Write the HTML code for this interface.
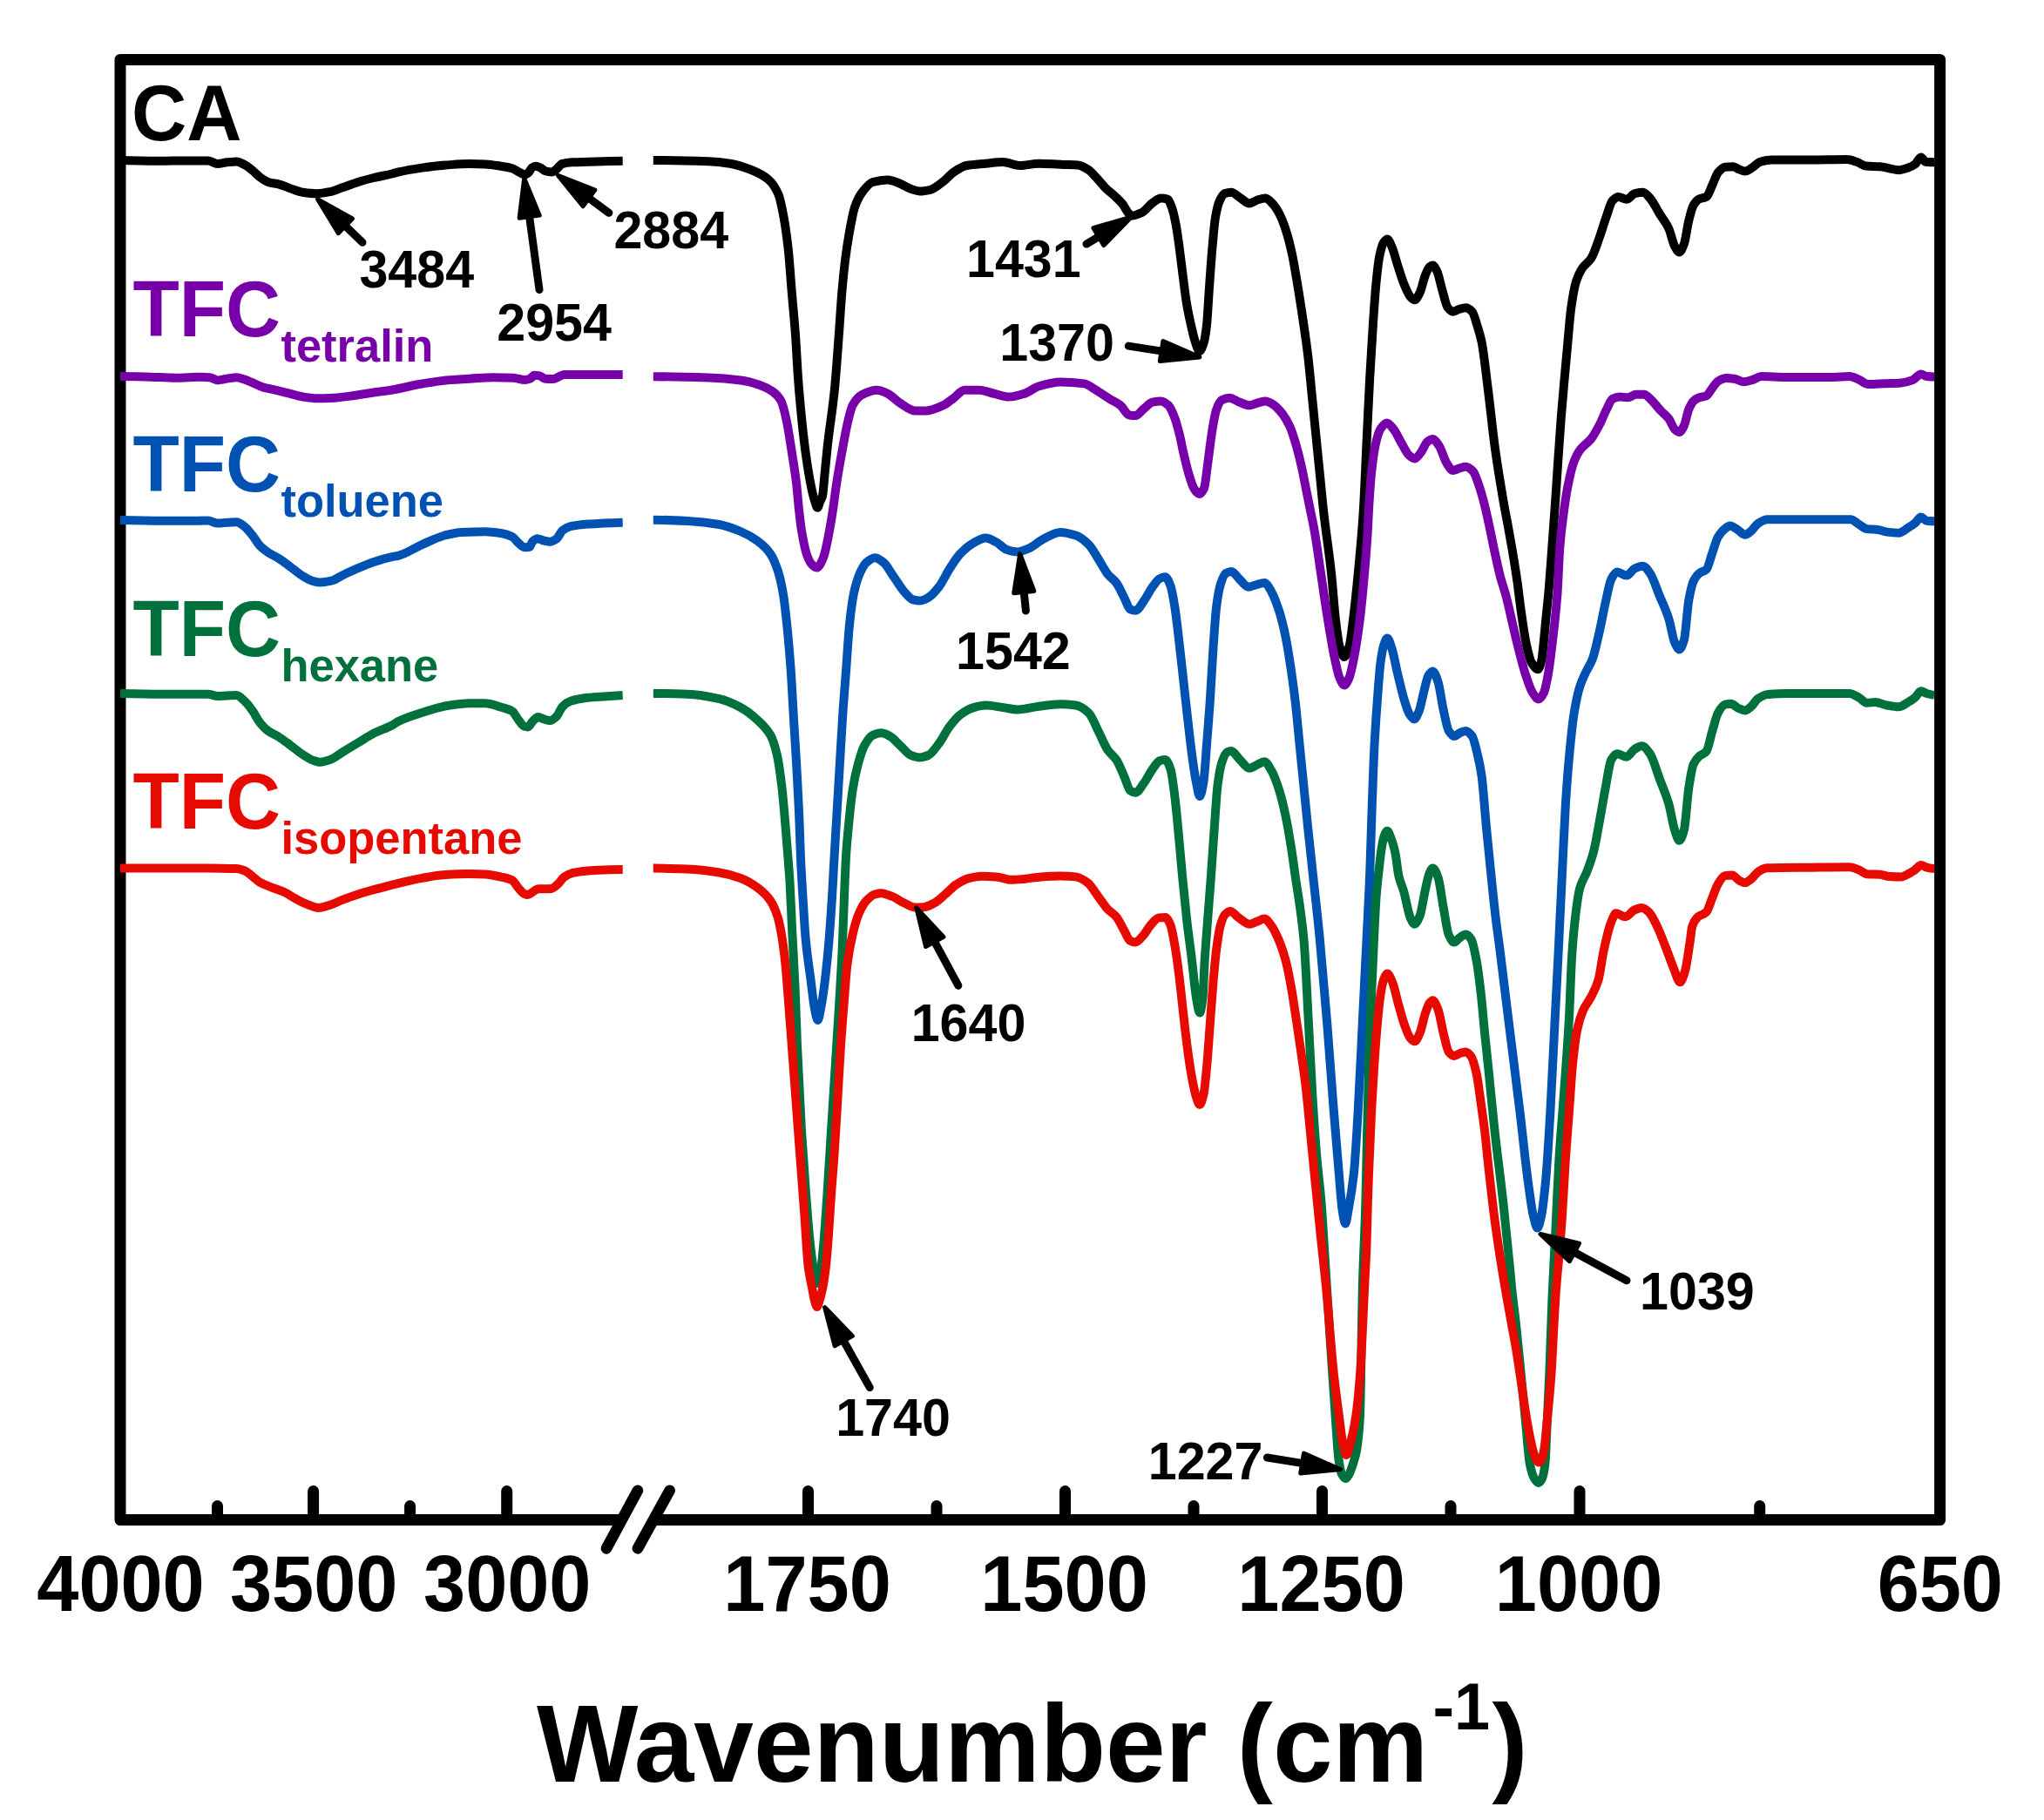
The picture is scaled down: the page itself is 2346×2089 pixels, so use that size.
<!DOCTYPE html><html><head><meta charset="utf-8"><title>FTIR spectra</title>
<style>html,body{margin:0;padding:0;background:#fff}svg{display:block}text{font-family:"Liberation Sans",sans-serif;font-weight:bold}</style></head><body>
<svg width="2346" height="2089" viewBox="0 0 2346 2089">
<rect width="2346" height="2089" fill="#fff"/>
<path fill="none" stroke="#000" stroke-width="13" stroke-linejoin="round" stroke-linecap="butt" d="M712,1744.6 L138,1744.6 L138,68.45 L2226.6,68.45 L2226.6,1744.6 L752,1744.6"/>
<g stroke="#000" stroke-width="13" stroke-linecap="round">
<line x1="359.6" y1="1740" x2="359.6" y2="1711.5"/>
<line x1="581.7" y1="1740" x2="581.7" y2="1711.5"/>
<line x1="927.5" y1="1740" x2="927.5" y2="1711.5"/>
<line x1="1222.5" y1="1740" x2="1222.5" y2="1711.5"/>
<line x1="1517.5" y1="1740" x2="1517.5" y2="1711.5"/>
<line x1="1813" y1="1740" x2="1813" y2="1711.5"/>
<line x1="249.5" y1="1740" x2="249.5" y2="1728.5"/>
<line x1="470.6" y1="1740" x2="470.6" y2="1728.5"/>
<line x1="1075" y1="1740" x2="1075" y2="1728.5"/>
<line x1="1370" y1="1740" x2="1370" y2="1728.5"/>
<line x1="1665" y1="1740" x2="1665" y2="1728.5"/>
<line x1="2019.7" y1="1740" x2="2019.7" y2="1728.5"/>
<line x1="696" y1="1777.3" x2="731.9" y2="1710.8" stroke-width="12.7"/>
<line x1="731.9" y1="1777.3" x2="768.6" y2="1710.8" stroke-width="12.7"/>
</g>
<g fill="none" stroke="#000000" stroke-width="10" stroke-linejoin="round" stroke-linecap="butt">
<path d="M138.0,184.0C153.5,184.6 168.9,184.8 184.4,184.8C193.5,184.8 202.5,184.4 211.6,184.4C220.7,184.4 229.7,184.4 238.8,184.4C242.4,184.4 246.1,188.1 249.7,188.1C253.3,188.1 256.9,186.7 260.5,186.3C264.1,185.9 267.8,185.4 271.4,185.4C274.4,185.4 277.5,187.5 280.5,189.0C283.5,190.5 286.5,192.9 289.5,195.3C292.5,197.7 295.6,201.3 298.6,203.5C301.6,205.7 304.7,207.9 307.7,208.9C311.9,210.3 316.2,210.5 320.4,211.6C324.6,212.7 328.8,214.8 333.0,216.2C337.9,217.8 342.7,220.0 347.6,220.7C353.0,221.5 358.5,222.2 363.9,222.2C369.3,222.2 374.8,220.9 380.2,219.8C384.4,218.9 388.7,216.8 392.9,215.3C398.9,213.2 405.0,210.8 411.0,208.9C417.0,207.0 423.1,205.5 429.1,204.0C436.1,202.3 443.0,201.2 450.0,199.5C452.4,198.9 454.8,198.0 457.2,197.5C466.3,195.4 475.3,193.9 484.4,192.6C493.5,191.3 502.5,190.1 511.6,189.5C520.7,188.9 529.7,188.1 538.8,188.1C544.8,188.1 550.9,188.2 556.9,188.4C563.0,188.6 569.0,189.8 575.1,190.8C579.3,191.5 583.6,192.0 587.8,193.2C590.8,194.1 593.8,196.6 596.8,198.0C598.6,198.9 600.5,200.4 602.3,200.4C603.8,200.4 605.3,199.2 606.8,198.0C608.0,197.0 609.2,193.4 610.4,192.6C611.9,191.6 613.5,190.8 615.0,190.8C616.8,190.8 618.6,191.8 620.4,192.6C622.2,193.4 624.0,195.7 625.8,196.2C628.2,196.9 630.7,197.5 633.1,197.5C634.9,197.5 636.7,195.7 638.5,194.4C640.6,192.9 642.8,188.7 644.9,188.1C648.8,187.0 652.8,186.5 656.7,186.3C665.8,185.8 674.8,185.6 683.9,185.4C694.2,185.1 704.4,184.9 714.7,184.8"/>
<path d="M749.8,184.0C771.0,184.0 792.2,184.5 813.4,185.3C821.5,185.6 829.7,186.5 837.8,187.7C846.0,188.9 854.1,191.8 862.3,195.0C868.8,197.6 875.4,200.5 881.9,206.0C885.8,209.3 889.6,214.2 893.5,223.2C895.3,227.3 897.0,236.1 898.8,245.2C900.8,255.5 902.8,268.8 904.8,286.8C906.1,298.8 907.5,319.8 908.8,335.7C910.2,352.4 911.6,365.4 913.0,384.6C914.0,398.3 915.0,419.9 916.0,433.5C917.4,452.9 918.9,468.5 920.3,482.5C921.8,497.5 923.4,510.6 924.9,521.6C926.8,535.0 928.6,546.6 930.5,555.9C931.8,562.5 933.2,568.7 934.5,573.0C935.8,577.0 937.0,582.7 938.3,582.7C939.4,582.7 940.4,577.4 941.5,575.0C942.3,573.1 943.2,572.5 944.0,569.5C944.8,566.5 945.7,553.1 946.5,544.8C947.6,533.9 948.7,521.8 949.8,511.8C952.5,487.1 955.3,473.4 958.0,445.9C959.6,429.8 961.2,406.0 962.8,384.6C964.0,369.0 965.1,349.3 966.3,335.7C967.5,321.4 968.8,308.9 970.0,299.0C971.6,286.2 973.2,276.1 974.8,267.2C976.9,255.7 978.9,243.8 981.0,237.8C983.8,229.6 986.7,224.5 989.5,220.7C993.6,215.3 997.6,210.1 1001.7,209.0C1007.4,207.5 1013.2,206.5 1018.9,206.5C1023.8,206.5 1028.6,209.1 1033.5,211.0C1037.6,212.6 1041.7,215.6 1045.8,217.0C1049.1,218.1 1052.3,219.5 1055.6,219.5C1059.7,219.5 1063.7,218.7 1067.8,217.8C1072.7,216.7 1077.6,212.2 1082.5,208.5C1086.6,205.5 1090.6,200.2 1094.7,197.5C1099.6,194.3 1104.5,190.9 1109.4,190.0C1116.7,188.7 1124.1,188.4 1131.4,187.7C1137.9,187.1 1144.5,186.0 1151.0,186.0C1157.5,186.0 1164.0,190.0 1170.5,190.0C1177.8,190.0 1185.2,187.7 1192.5,187.7C1201.7,187.7 1210.8,188.6 1220.0,188.9C1225.7,189.1 1231.4,189.1 1237.1,189.4C1241.2,189.6 1245.3,192.4 1249.4,195.0C1252.6,197.1 1255.9,201.4 1259.1,204.8C1262.4,208.3 1265.6,212.6 1268.9,215.8C1272.2,219.0 1275.4,221.3 1278.7,224.4C1282.0,227.5 1285.2,230.2 1288.5,234.2C1290.9,237.2 1293.4,243.1 1295.8,245.2C1297.0,246.3 1298.3,247.6 1299.5,247.6C1303.2,247.6 1306.8,245.7 1310.5,244.0C1314.6,242.1 1318.6,235.8 1322.7,233.0C1326.0,230.8 1329.2,227.6 1332.5,227.6C1335.0,227.6 1337.4,227.9 1339.9,228.6C1341.5,229.0 1343.2,233.6 1344.8,237.8C1346.4,241.9 1348.0,249.2 1349.6,257.4C1350.8,263.7 1352.1,273.0 1353.3,281.9C1354.5,290.8 1355.8,301.7 1357.0,311.2C1358.6,323.8 1360.3,338.1 1361.9,347.9C1363.5,357.7 1365.2,365.1 1366.8,372.4C1368.4,379.7 1370.1,387.3 1371.7,392.0C1373.3,396.7 1375.0,403.0 1376.6,403.0C1378.2,403.0 1379.8,398.9 1381.4,394.4C1382.6,390.9 1383.9,383.1 1385.1,372.4C1385.9,365.1 1386.8,347.5 1387.6,335.7C1388.8,318.7 1390.0,300.6 1391.2,286.8C1392.4,272.6 1393.7,257.2 1394.9,250.0C1396.5,240.5 1398.2,233.9 1399.8,230.5C1401.8,226.2 1403.9,222.7 1405.9,222.0C1408.3,221.2 1410.8,220.7 1413.2,220.7C1416.5,220.7 1419.7,224.8 1423.0,226.8C1426.7,229.0 1430.3,233.4 1434.0,233.4C1437.3,233.4 1440.5,230.2 1443.8,229.3C1446.7,228.5 1449.5,227.6 1452.4,227.6C1455.3,227.6 1458.1,231.2 1461.0,234.2C1463.8,237.1 1466.7,241.9 1469.5,247.6C1471.9,252.5 1474.4,259.4 1476.8,267.2C1478.9,273.8 1480.9,282.1 1483.0,291.7C1485.0,301.1 1487.1,313.7 1489.1,325.9C1491.1,338.1 1493.2,351.2 1495.2,365.0C1497.2,378.8 1499.3,392.0 1501.3,409.1C1502.9,422.9 1504.6,441.7 1506.2,458.0C1507.8,474.3 1509.5,490.7 1511.1,507.0C1512.7,523.3 1514.4,539.6 1516.0,555.9C1517.0,565.6 1517.9,576.2 1518.9,585.0C1521.9,612.5 1525.0,629.5 1528.0,657.8C1529.7,673.4 1531.3,698.3 1533.0,712.0C1534.5,724.3 1536.0,736.9 1537.5,742.0C1539.3,748.1 1541.1,754.0 1542.9,754.0C1544.8,754.0 1546.6,748.2 1548.5,742.0C1550.0,737.0 1551.5,723.6 1553.0,712.0C1554.9,697.1 1556.9,678.0 1558.8,657.8C1560.8,636.5 1562.9,616.7 1564.9,585.0C1566.1,565.8 1567.4,532.6 1568.6,507.0C1569.8,482.1 1571.0,455.4 1572.2,433.5C1573.4,411.0 1574.7,390.5 1575.9,372.4C1577.1,354.3 1578.4,335.7 1579.6,323.5C1580.8,311.3 1582.1,300.0 1583.3,294.1C1584.9,286.5 1586.5,280.4 1588.1,278.2C1589.5,276.3 1590.9,274.5 1592.3,274.5C1594.2,274.5 1596.0,280.1 1597.9,284.3C1599.9,288.9 1602.0,297.6 1604.0,303.9C1606.5,311.5 1608.9,320.0 1611.4,325.9C1613.8,331.7 1616.3,338.0 1618.7,340.6C1620.3,342.3 1622.0,344.3 1623.6,344.3C1625.6,344.3 1627.7,339.7 1629.7,335.7C1631.7,331.7 1633.8,321.1 1635.8,316.1C1637.4,312.1 1639.1,307.6 1640.7,306.3C1641.9,305.3 1643.2,304.4 1644.4,304.4C1646.0,304.4 1647.7,308.0 1649.3,311.2C1651.3,315.2 1653.4,326.3 1655.4,333.2C1657.4,340.1 1659.5,350.2 1661.5,352.8C1663.5,355.4 1665.6,357.7 1667.6,357.7C1670.1,357.7 1672.5,355.5 1675.0,354.8C1677.4,354.1 1679.9,353.3 1682.3,353.3C1684.8,353.3 1687.2,355.2 1689.7,357.7C1691.7,359.7 1693.8,368.3 1695.8,374.8C1697.4,379.8 1698.9,384.5 1700.5,392.0C1703.0,404.0 1705.5,428.3 1708.0,448.0C1710.7,469.0 1713.3,495.7 1716.0,515.0C1719.3,539.1 1722.7,558.9 1726.0,578.0C1727.5,586.6 1729.0,593.8 1730.5,602.0C1732.2,611.1 1733.8,620.1 1735.5,630.0C1737.5,641.9 1739.5,653.9 1741.5,668.0C1742.9,678.1 1744.4,691.5 1745.8,701.5C1747.8,715.3 1749.7,729.6 1751.7,738.6C1753.8,748.1 1755.8,757.5 1757.9,760.8C1760.4,764.7 1762.8,768.2 1765.3,768.2C1766.7,768.2 1768.1,763.1 1769.5,757.0C1770.2,754.1 1770.8,746.2 1771.5,740.0C1772.3,732.2 1773.2,722.4 1774.0,713.8C1775.2,701.1 1776.5,690.8 1777.7,676.7C1778.9,662.6 1780.2,644.0 1781.4,627.3C1782.6,611.0 1783.8,595.0 1785.0,577.8C1786.1,562.0 1787.2,544.4 1788.3,528.4C1789.5,511.4 1790.6,493.8 1791.8,478.9C1793.4,459.0 1794.9,442.6 1796.5,425.0C1797.5,413.8 1798.5,402.7 1799.5,392.0C1800.7,379.5 1801.8,363.9 1803.0,355.4C1805.0,340.8 1807.0,329.4 1809.0,323.1C1811.3,316.0 1813.5,311.8 1815.8,308.3C1819.4,302.8 1822.9,301.8 1826.5,296.1C1829.7,291.1 1832.8,280.7 1836.0,271.9C1838.7,264.5 1841.3,255.1 1844.0,247.7C1846.3,241.4 1848.5,232.4 1850.8,230.2C1853.0,228.0 1855.3,226.1 1857.5,226.1C1860.6,226.1 1863.8,228.8 1866.9,228.8C1870.0,228.8 1873.2,222.8 1876.3,222.1C1879.5,221.4 1882.6,220.8 1885.8,220.8C1888.5,220.8 1891.1,224.6 1893.8,227.5C1897.4,231.4 1901.0,239.2 1904.6,245.0C1908.2,250.8 1911.8,254.7 1915.4,262.5C1917.6,267.3 1919.9,278.8 1922.1,282.7C1923.9,285.8 1925.7,289.4 1927.5,289.4C1929.3,289.4 1931.1,284.6 1932.9,280.0C1934.7,275.4 1936.5,260.2 1938.3,253.1C1940.1,246.1 1941.8,238.5 1943.6,235.6C1945.9,231.8 1948.1,229.3 1950.4,228.3C1953.1,227.1 1955.7,227.4 1958.4,226.1C1960.7,225.0 1962.9,217.4 1965.2,212.7C1967.4,208.0 1969.7,200.5 1971.9,197.9C1974.6,194.8 1977.3,192.0 1980.0,191.7C1983.1,191.4 1986.3,191.2 1989.4,191.2C1991.6,191.2 1993.9,193.6 1996.1,194.4C1998.4,195.3 2000.6,196.5 2002.9,196.5C2005.6,196.5 2008.3,194.1 2011.0,192.5C2014.1,190.7 2017.3,186.7 2020.4,185.8C2024.9,184.6 2029.3,183.6 2033.8,183.6C2048.2,183.6 2062.5,183.6 2076.9,183.6C2091.3,183.6 2105.6,183.1 2120.0,183.1C2123.6,183.1 2127.2,184.6 2130.8,185.8C2134.4,186.9 2137.9,190.3 2141.5,190.6C2146.9,191.0 2152.3,190.8 2157.7,191.2C2161.3,191.4 2164.8,192.6 2168.4,193.3C2172.0,194.0 2175.6,195.2 2179.2,195.2C2182.8,195.2 2186.4,193.7 2190.0,192.5C2192.7,191.6 2195.3,190.4 2198.0,188.5C2200.3,186.9 2202.5,180.4 2204.8,180.4C2206.6,180.4 2208.4,185.6 2210.2,185.8C2213.5,186.1 2216.7,186.3 2220.0,186.3"/>
</g>
<g fill="none" stroke="#7800AA" stroke-width="10" stroke-linejoin="round" stroke-linecap="butt">
<path d="M138.0,432.0C147.4,432.0 156.9,432.2 166.3,432.4C178.4,432.6 190.4,433.7 202.5,433.7C211.6,433.7 220.6,432.8 229.7,432.8C233.3,432.8 237.0,433.0 240.6,433.2C243.6,433.4 246.7,436.4 249.7,436.4C253.3,436.4 256.9,435.1 260.5,434.6C264.1,434.1 267.8,433.2 271.4,433.2C274.4,433.2 277.5,434.6 280.5,435.5C283.5,436.4 286.5,437.9 289.5,439.2C293.7,441.0 298.0,443.4 302.2,444.6C306.4,445.8 310.7,446.3 314.9,447.3C319.7,448.4 324.6,449.7 329.4,450.9C335.5,452.4 341.5,454.6 347.6,455.5C353.0,456.3 358.5,457.3 363.9,457.3C370.5,457.3 377.2,457.0 383.8,456.7C389.8,456.4 395.9,455.4 401.9,454.6C410.9,453.4 420.0,451.8 429.0,450.5C436.0,449.5 443.0,448.7 450.0,447.5C461.5,445.6 472.9,442.4 484.4,440.5C493.5,439.0 502.5,437.3 511.6,436.5C520.7,435.7 529.7,435.2 538.8,434.7C547.9,434.2 556.9,433.2 566.0,433.2C573.9,433.2 581.7,433.4 589.6,433.8C593.8,434.0 598.1,436.1 602.3,436.1C604.4,436.1 606.5,435.5 608.6,434.7C610.1,434.1 611.6,430.7 613.1,430.7C614.9,430.7 616.8,430.9 618.6,431.1C621.0,431.4 623.4,434.5 625.8,434.7C628.8,434.9 631.9,435.0 634.9,435.0C637.3,435.0 639.7,432.9 642.1,432.0C643.9,431.3 645.8,430.1 647.6,430.1C653.6,430.1 659.7,430.1 665.7,430.1C682.0,430.1 698.4,430.1 714.7,430.0"/>
<path d="M749.8,432.3C771.0,432.3 792.2,432.8 813.4,433.5C825.6,433.9 837.8,434.9 850.0,436.5C857.3,437.4 864.7,439.5 872.0,442.0C876.9,443.7 881.9,445.9 886.8,449.4C890.1,451.7 893.3,454.6 896.6,460.4C898.6,464.0 900.7,473.3 902.7,482.5C904.7,491.7 906.8,506.0 908.8,519.0C910.6,530.5 912.4,540.7 914.2,555.9C915.1,563.8 916.1,576.5 917.0,585.0C918.0,594.1 919.0,603.1 920.0,609.0C922.2,621.9 924.3,632.5 926.5,638.0C928.3,642.7 930.2,646.3 932.0,648.0C933.9,649.7 935.7,651.5 937.6,651.5C940.1,651.5 942.5,645.7 945.0,640.0C947.3,634.6 949.7,621.1 952.0,609.0C953.3,602.1 954.7,593.8 956.0,585.0C957.3,576.2 958.7,564.7 960.0,556.0C962.1,542.3 964.2,530.8 966.3,519.2C968.3,508.0 970.4,496.1 972.4,487.4C974.4,478.7 976.5,469.0 978.5,465.3C982.2,458.7 985.8,454.9 989.5,453.0C995.2,450.1 1000.9,447.7 1006.6,447.7C1010.7,447.7 1014.8,450.0 1018.9,451.9C1023.8,454.2 1028.6,460.0 1033.5,462.9C1039.2,466.4 1045.0,471.5 1050.7,471.5C1054.8,471.5 1058.8,471.5 1062.9,471.5C1069.4,471.5 1076.0,468.2 1082.5,465.3C1086.6,463.5 1090.6,459.7 1094.7,456.8C1098.8,453.9 1102.9,447.7 1107.0,447.7C1112.7,447.7 1118.3,447.7 1124.0,447.7C1129.7,447.7 1135.5,450.6 1141.2,451.9C1146.9,453.2 1152.6,455.6 1158.3,455.6C1164.0,455.6 1169.7,453.6 1175.4,451.9C1181.1,450.2 1186.8,445.0 1192.5,443.3C1200.7,440.9 1208.8,438.5 1217.0,438.5C1226.2,438.5 1235.3,439.2 1244.5,440.4C1248.6,441.0 1252.6,444.6 1256.7,447.0C1262.4,450.3 1268.1,454.5 1273.8,458.0C1277.9,460.5 1281.9,462.1 1286.0,465.3C1289.3,467.9 1292.5,475.7 1295.8,476.3C1298.3,476.8 1300.7,477.1 1303.2,477.1C1306.5,477.1 1309.7,471.6 1313.0,469.0C1316.2,466.5 1319.5,462.4 1322.7,461.7C1326.0,461.0 1329.2,460.4 1332.5,460.4C1335.4,460.4 1338.2,462.7 1341.1,465.3C1343.5,467.5 1346.0,473.7 1348.4,480.0C1350.3,484.8 1352.1,492.1 1354.0,499.6C1355.4,505.2 1356.8,513.1 1358.2,519.2C1360.2,528.0 1362.3,536.9 1364.3,543.6C1366.3,550.3 1368.4,557.7 1370.4,560.7C1372.5,563.8 1374.5,567.0 1376.6,567.0C1378.4,567.0 1380.1,564.3 1381.9,560.7C1383.4,557.7 1384.8,541.7 1386.3,531.4C1387.9,519.9 1389.6,504.5 1391.2,494.7C1392.8,484.9 1394.5,474.6 1396.1,470.2C1398.1,464.7 1400.2,460.2 1402.2,459.2C1405.1,457.8 1407.9,456.8 1410.8,456.8C1414.9,456.8 1418.9,460.2 1423.0,461.7C1426.7,463.0 1430.3,465.3 1434.0,465.3C1437.3,465.3 1440.5,463.2 1443.8,462.4C1446.7,461.7 1449.5,460.4 1452.4,460.4C1455.3,460.4 1458.1,462.4 1461.0,464.1C1464.7,466.3 1468.3,470.4 1472.0,475.1C1474.8,478.7 1477.7,483.6 1480.5,489.8C1483.0,495.2 1485.4,503.3 1487.9,511.8C1489.9,518.8 1492.0,527.2 1494.0,536.3C1495.6,543.6 1497.3,552.6 1498.9,560.7C1500.5,568.8 1502.2,576.9 1503.8,585.0C1505.4,593.0 1507.0,599.9 1508.6,608.9C1511.1,622.8 1513.5,641.4 1516.0,657.8C1518.4,674.0 1520.9,691.8 1523.3,706.8C1526.2,724.5 1529.0,742.4 1531.9,755.7C1533.8,764.3 1535.6,773.8 1537.5,778.0C1539.3,782.1 1541.1,786.5 1542.9,786.5C1544.8,786.5 1546.6,782.2 1548.5,778.0C1550.3,774.0 1552.1,764.7 1553.9,755.7C1556.4,743.3 1558.8,726.9 1561.3,706.8C1562.9,693.8 1564.5,676.3 1566.1,657.8C1567.3,643.5 1568.6,629.2 1569.8,608.9C1570.2,602.3 1570.6,591.7 1571.0,585.0C1572.0,568.3 1573.0,553.3 1574.0,543.6C1575.5,529.4 1576.9,518.4 1578.4,511.8C1580.4,502.6 1582.5,495.3 1584.5,492.3C1586.9,488.7 1589.4,485.4 1591.8,485.4C1594.3,485.4 1596.7,489.3 1599.2,492.3C1602.5,496.2 1605.7,504.0 1609.0,509.4C1611.8,514.1 1614.7,520.4 1617.5,522.8C1619.5,524.5 1621.6,526.5 1623.6,526.5C1626.1,526.5 1628.5,522.3 1631.0,519.2C1633.4,516.2 1635.9,508.8 1638.3,507.0C1640.3,505.5 1642.4,504.0 1644.4,504.0C1646.9,504.0 1649.3,508.3 1651.8,511.8C1654.6,515.9 1657.5,527.0 1660.3,531.4C1662.7,535.2 1665.2,540.0 1667.6,540.0C1670.1,540.0 1672.5,538.2 1675.0,537.5C1677.4,536.8 1679.9,535.8 1682.3,535.8C1685.2,535.8 1688.0,538.2 1690.9,541.2C1692.9,543.3 1695.0,550.2 1697.0,555.9C1699.0,561.5 1701.0,568.4 1703.0,576.0C1705.0,583.6 1707.0,592.9 1709.0,602.0C1711.0,611.1 1713.0,621.7 1715.0,631.0C1717.3,641.8 1719.7,653.2 1722.0,662.0C1724.0,669.6 1726.0,674.6 1728.0,682.0C1732.1,697.2 1736.3,718.2 1740.4,734.6C1744.0,748.9 1747.6,764.2 1751.2,775.0C1753.8,782.8 1756.4,791.1 1759.0,795.0C1761.3,798.5 1763.7,802.5 1766.0,802.5C1768.0,802.5 1770.0,799.0 1772.0,795.0C1773.6,791.9 1775.1,783.4 1776.7,775.0C1778.5,765.3 1780.3,750.0 1782.1,734.6C1783.9,719.2 1785.7,705.1 1787.5,680.8C1788.4,668.7 1789.3,641.6 1790.2,630.0C1791.5,612.9 1792.9,602.6 1794.2,592.3C1796.0,578.3 1797.8,566.3 1799.6,557.3C1801.8,546.1 1804.1,536.3 1806.3,530.4C1808.6,524.4 1810.8,520.0 1813.1,516.9C1817.6,510.7 1822.0,509.1 1826.5,503.4C1829.7,499.3 1832.8,493.4 1836.0,487.3C1838.7,482.2 1841.3,475.0 1844.0,469.8C1846.3,465.4 1848.5,458.8 1850.8,457.7C1853.5,456.4 1856.1,455.5 1858.8,455.5C1862.0,455.5 1865.1,456.3 1868.3,456.3C1871.4,456.3 1874.6,452.8 1877.7,452.8C1880.8,452.8 1884.0,452.8 1887.1,452.8C1889.8,452.8 1892.5,456.6 1895.2,459.0C1898.8,462.2 1902.3,467.3 1905.9,471.1C1909.1,474.5 1912.2,476.5 1915.4,480.6C1917.6,483.5 1919.9,490.7 1922.1,492.7C1923.9,494.3 1925.7,495.9 1927.5,495.9C1929.3,495.9 1931.1,492.1 1932.9,488.6C1934.7,485.1 1936.5,474.0 1938.3,469.8C1940.1,465.7 1941.8,462.0 1943.6,460.4C1945.9,458.3 1948.1,457.1 1950.4,456.3C1953.1,455.4 1955.7,455.5 1958.4,454.4C1960.7,453.5 1962.9,448.4 1965.2,445.6C1967.4,442.8 1969.7,438.8 1971.9,437.5C1975.0,435.7 1978.2,434.0 1981.3,434.0C1984.5,434.0 1987.6,434.4 1990.8,434.8C1994.4,435.3 1997.9,438.3 2001.5,438.3C2004.7,438.3 2007.8,437.0 2011.0,436.1C2014.6,435.1 2018.1,432.1 2021.7,432.1C2031.1,432.1 2040.6,432.9 2050.0,432.9C2067.9,432.9 2085.9,432.9 2103.8,432.9C2110.1,432.9 2116.4,432.1 2122.7,432.1C2126.3,432.1 2129.8,434.2 2133.4,435.6C2137.0,437.0 2140.6,441.0 2144.2,441.0C2150.5,441.0 2156.7,440.5 2163.0,440.2C2169.3,439.9 2175.6,439.9 2181.9,439.4C2186.4,439.1 2190.9,437.8 2195.4,436.1C2198.5,434.9 2201.7,429.4 2204.8,429.4C2207.0,429.4 2209.3,431.9 2211.5,432.1C2214.3,432.4 2217.2,432.6 2220.0,432.6"/>
</g>
<g fill="none" stroke="#0052B2" stroke-width="10" stroke-linejoin="round" stroke-linecap="butt">
<path d="M138.0,597.0C153.5,597.4 168.9,597.8 184.4,597.8C193.5,597.8 202.5,597.8 211.6,597.8C220.7,597.8 229.7,597.5 238.8,597.5C242.4,597.5 246.1,600.6 249.7,600.6C253.3,600.6 256.9,599.9 260.5,599.7C264.1,599.5 267.8,599.3 271.4,599.3C274.4,599.3 277.5,602.0 280.5,604.2C283.5,606.4 286.5,610.5 289.5,614.2C292.5,617.9 295.6,623.7 298.6,626.8C301.6,629.9 304.7,632.1 307.7,634.1C311.9,636.9 316.2,638.6 320.4,641.3C324.6,644.0 328.8,647.3 333.0,650.4C337.9,654.0 342.7,658.4 347.6,661.3C351.2,663.4 354.8,665.7 358.4,666.7C361.4,667.5 364.5,668.5 367.5,668.5C371.7,668.5 376.0,667.6 380.2,666.7C384.4,665.8 388.7,662.4 392.9,660.4C398.9,657.5 405.0,654.8 411.0,652.2C417.0,649.6 423.1,647.0 429.1,645.0C436.1,642.7 443.0,640.7 450.0,639.2C452.4,638.7 454.8,638.4 457.2,637.8C466.3,635.5 475.3,629.0 484.4,625.1C493.5,621.2 502.5,616.4 511.6,614.2C517.6,612.7 523.7,611.2 529.7,610.9C538.8,610.5 547.8,610.2 556.9,610.2C563.0,610.2 569.0,611.1 575.1,612.0C579.3,612.7 583.6,613.9 587.8,616.0C590.2,617.2 592.6,621.2 595.0,623.2C597.4,625.2 599.9,628.3 602.3,628.3C604.1,628.3 605.9,628.1 607.7,627.8C608.9,627.6 610.1,622.5 611.3,621.4C613.1,619.7 615.0,618.2 616.8,618.2C619.2,618.2 621.6,620.0 624.0,620.5C626.4,621.1 628.9,621.8 631.3,621.8C633.7,621.8 636.1,620.3 638.5,618.7C640.9,617.1 643.4,610.5 645.8,608.7C648.8,606.5 651.8,604.9 654.8,604.2C661.5,602.7 668.1,602.0 674.8,601.5C680.8,601.1 686.9,600.9 692.9,600.6C700.2,600.3 707.4,600.0 714.7,599.7"/>
<path d="M749.8,596.7C762.9,596.7 775.9,597.3 789.0,598.0C801.2,598.6 813.4,599.9 825.6,602.0C833.7,603.4 841.9,606.6 850.0,610.0C856.5,612.7 863.1,616.2 869.6,621.0C874.5,624.6 879.4,628.7 884.3,635.8C887.2,639.9 890.0,646.6 892.9,655.4C894.9,661.6 897.0,670.4 899.0,682.3C900.5,690.9 901.9,704.7 903.4,719.0C904.8,732.6 906.2,748.5 907.6,767.9C908.8,784.6 910.0,809.0 911.2,829.0C912.2,845.6 913.2,860.2 914.2,878.0C915.2,896.4 916.3,915.1 917.3,939.0C917.9,952.1 918.4,972.6 919.0,985.0C919.8,1003.2 920.7,1016.3 921.5,1030.0C922.6,1047.5 923.6,1066.3 924.7,1077.8C926.7,1099.7 928.8,1110.9 930.8,1126.8C932.0,1136.4 933.3,1148.6 934.5,1155.0C935.9,1162.1 937.2,1171.0 938.6,1171.0C939.9,1171.0 941.2,1161.6 942.5,1155.0C943.9,1147.9 945.3,1138.0 946.7,1126.8C948.3,1113.7 950.0,1097.1 951.6,1077.8C952.7,1064.4 953.9,1048.1 955.0,1030.0C955.7,1018.3 956.5,1002.9 957.2,990.0C958.2,972.4 959.2,956.0 960.2,939.0C961.4,918.6 962.6,898.1 963.8,878.0C965.0,857.4 966.3,835.0 967.5,816.9C968.7,798.8 970.0,784.4 971.2,767.9C972.4,751.8 973.6,730.8 974.8,719.0C976.4,703.0 978.1,690.1 979.7,682.3C982.1,670.7 984.6,663.2 987.0,657.8C989.5,652.3 991.9,647.7 994.4,645.6C997.7,642.8 1000.9,640.2 1004.2,640.2C1007.5,640.2 1010.7,643.1 1014.0,645.6C1018.1,648.8 1022.1,657.0 1026.2,662.7C1030.3,668.4 1034.3,675.6 1038.4,679.9C1041.7,683.4 1044.9,687.5 1048.2,688.4C1050.7,689.1 1053.1,689.6 1055.6,689.6C1058.8,689.6 1062.1,687.7 1065.3,686.0C1069.4,683.8 1073.5,678.9 1077.6,673.7C1081.7,668.6 1085.7,659.3 1089.8,653.0C1093.9,646.7 1097.9,640.1 1102.0,635.8C1106.9,630.6 1111.8,626.3 1116.7,623.6C1121.6,620.9 1126.5,617.5 1131.4,617.5C1135.5,617.5 1139.5,620.3 1143.6,622.4C1147.7,624.5 1151.7,629.8 1155.8,631.0C1159.9,632.3 1164.0,633.4 1168.1,633.4C1172.2,633.4 1176.2,631.3 1180.3,629.7C1186.0,627.4 1191.7,621.5 1197.4,618.7C1203.9,615.5 1210.5,610.9 1217.0,610.9C1222.9,610.9 1228.8,612.6 1234.7,614.5C1239.6,616.1 1244.5,620.1 1249.4,624.8C1253.5,628.7 1257.5,636.8 1261.6,643.2C1264.9,648.3 1268.1,655.1 1271.4,659.1C1274.7,663.1 1277.9,664.6 1281.2,668.9C1284.4,673.1 1287.7,681.0 1290.9,687.2C1293.0,691.2 1295.0,698.6 1297.1,699.4C1299.1,700.2 1301.2,700.7 1303.2,700.7C1306.5,700.7 1309.7,694.0 1313.0,689.6C1316.2,685.3 1319.5,678.0 1322.7,673.7C1325.6,669.9 1328.4,665.2 1331.3,664.0C1333.3,663.1 1335.4,662.3 1337.4,662.3C1339.4,662.3 1341.5,667.3 1343.5,672.5C1345.1,676.7 1346.8,687.0 1348.4,697.0C1350.0,707.0 1351.7,722.3 1353.3,736.1C1354.9,749.9 1356.6,765.5 1358.2,780.2C1359.8,794.9 1361.5,809.9 1363.1,824.2C1364.7,838.5 1366.4,853.8 1368.0,865.8C1369.6,877.8 1371.3,889.6 1372.9,897.6C1374.3,904.3 1375.6,914.0 1377.0,914.0C1378.5,914.0 1379.9,906.1 1381.4,897.6C1382.6,890.5 1383.9,869.0 1385.1,853.5C1386.3,838.0 1387.6,822.7 1388.8,804.6C1390.0,786.5 1391.3,761.4 1392.5,743.5C1393.7,726.1 1394.9,706.4 1396.1,697.0C1397.7,684.2 1399.4,675.0 1401.0,670.1C1403.0,664.0 1405.1,658.9 1407.1,657.8C1409.1,656.7 1411.2,655.9 1413.2,655.9C1416.5,655.9 1419.7,662.2 1423.0,665.2C1426.3,668.2 1429.5,673.7 1432.8,673.7C1435.7,673.7 1438.5,672.0 1441.4,671.3C1444.7,670.4 1447.9,668.9 1451.2,668.9C1454.0,668.9 1456.9,675.0 1459.7,679.9C1462.6,684.8 1465.4,692.9 1468.3,701.9C1470.7,709.5 1473.2,719.4 1475.6,731.2C1477.6,741.0 1479.7,754.3 1481.7,767.9C1483.3,778.8 1485.0,790.6 1486.6,804.6C1488.2,818.6 1489.9,837.2 1491.5,853.5C1493.1,869.8 1494.8,886.2 1496.4,902.5C1498.0,918.8 1499.7,935.6 1501.3,951.4C1503.0,968.1 1504.8,983.8 1506.5,1000.0C1509.3,1025.9 1512.0,1049.2 1514.8,1077.8C1517.6,1107.1 1520.5,1140.8 1523.3,1175.7C1525.8,1206.1 1528.2,1242.5 1530.7,1273.5C1532.7,1299.1 1534.8,1323.5 1536.8,1346.9C1538.0,1361.1 1539.3,1380.0 1540.5,1388.0C1541.7,1395.8 1542.9,1404.5 1544.1,1404.5C1545.3,1404.5 1546.5,1394.4 1547.7,1388.0C1549.8,1377.0 1551.8,1366.2 1553.9,1346.9C1555.5,1331.7 1557.2,1301.5 1558.8,1273.5C1560.4,1245.5 1562.1,1208.3 1563.7,1175.7C1565.3,1143.1 1567.0,1111.3 1568.6,1077.8C1569.8,1052.5 1571.1,1031.1 1572.3,1000.0C1573.1,979.8 1573.9,949.1 1574.7,926.9C1575.7,900.1 1576.6,872.0 1577.6,853.5C1578.7,833.1 1579.7,818.9 1580.8,804.6C1582.0,788.1 1583.3,769.8 1584.5,760.6C1585.7,751.7 1586.9,744.6 1588.1,741.0C1589.5,736.8 1590.9,732.5 1592.3,732.5C1594.2,732.5 1596.0,740.1 1597.9,745.9C1599.9,752.2 1602.0,764.3 1604.0,772.8C1606.5,783.1 1608.9,794.1 1611.4,802.2C1613.4,808.8 1615.5,816.1 1617.5,819.3C1619.4,822.2 1621.2,825.4 1623.1,825.4C1624.9,825.4 1626.7,820.9 1628.5,816.8C1630.5,812.2 1632.6,800.0 1634.6,792.4C1636.2,786.3 1637.9,777.8 1639.5,775.3C1641.1,772.8 1642.8,770.4 1644.4,770.4C1646.4,770.4 1648.5,776.7 1650.5,782.6C1652.5,788.5 1654.6,805.3 1656.6,814.4C1658.7,823.7 1660.7,835.6 1662.8,838.9C1664.8,842.1 1666.9,845.0 1668.9,845.0C1671.3,845.0 1673.8,841.8 1676.2,840.8C1678.2,840.0 1680.3,838.9 1682.3,838.9C1684.8,838.9 1687.2,841.7 1689.7,845.0C1691.7,847.8 1693.8,857.6 1695.8,866.0C1697.4,872.5 1698.9,879.2 1700.5,890.0C1702.3,902.6 1704.2,930.9 1706.0,950.0C1707.7,967.4 1709.3,983.8 1711.0,1000.0C1712.8,1017.8 1714.7,1036.6 1716.5,1052.0C1718.2,1066.0 1719.8,1076.9 1721.5,1090.0C1724.7,1114.9 1727.8,1142.0 1731.0,1167.7C1735.5,1203.9 1739.9,1238.2 1744.4,1275.4C1747.5,1301.5 1750.7,1333.3 1753.8,1356.1C1755.9,1371.2 1757.9,1387.8 1760.0,1396.0C1761.5,1402.1 1763.1,1409.5 1764.6,1409.5C1766.1,1409.5 1767.5,1402.4 1769.0,1396.0C1770.7,1388.7 1772.3,1373.4 1774.0,1356.1C1775.8,1337.4 1777.6,1306.2 1779.4,1275.4C1781.2,1244.6 1783.0,1203.1 1784.8,1167.7C1786.1,1141.5 1787.5,1117.4 1788.8,1090.0C1789.3,1080.4 1789.7,1069.9 1790.2,1060.0C1791.1,1041.0 1792.0,1022.3 1792.9,1003.8C1794.2,976.4 1795.6,944.2 1796.9,923.0C1798.3,901.2 1799.6,884.0 1801.0,869.2C1802.8,850.0 1804.5,832.0 1806.3,820.8C1808.6,806.4 1810.8,795.8 1813.1,788.5C1815.3,781.3 1817.6,777.2 1819.8,772.3C1822.5,766.4 1825.2,763.3 1827.9,756.1C1830.6,748.9 1833.3,735.6 1836.0,723.8C1838.2,714.0 1840.5,701.3 1842.7,691.5C1844.9,681.7 1847.2,668.8 1849.4,664.6C1851.6,660.4 1853.9,656.5 1856.1,656.5C1859.7,656.5 1863.3,660.6 1866.9,660.6C1870.0,660.6 1873.2,653.8 1876.3,652.5C1879.5,651.1 1882.6,649.8 1885.8,649.8C1888.5,649.8 1891.1,654.2 1893.8,657.9C1897.4,662.9 1901.0,674.8 1904.6,683.5C1908.2,692.2 1911.8,699.1 1915.4,710.4C1917.6,717.4 1919.9,732.5 1922.1,737.3C1923.9,741.2 1925.7,745.4 1927.5,745.4C1929.3,745.4 1931.1,740.4 1932.9,734.6C1934.7,728.8 1936.5,698.7 1938.3,688.8C1940.1,679.1 1941.8,671.0 1943.6,667.3C1945.9,662.5 1948.1,659.6 1950.4,657.9C1953.1,655.9 1955.7,656.1 1958.4,653.8C1960.7,651.8 1962.9,641.3 1965.2,635.0C1967.4,628.8 1969.7,619.9 1971.9,616.2C1974.6,611.7 1977.3,608.7 1980.0,606.7C1981.8,605.3 1983.6,603.6 1985.4,603.6C1988.5,603.6 1991.7,606.6 1994.8,608.4C1997.5,610.0 2000.2,613.8 2002.9,613.8C2005.1,613.8 2007.4,611.5 2009.6,609.8C2012.3,607.7 2015.0,602.6 2017.7,600.9C2021.3,598.7 2024.8,596.3 2028.4,596.3C2044.6,596.3 2060.7,596.3 2076.9,596.3C2092.6,596.3 2108.3,596.3 2124.0,596.3C2127.1,596.3 2130.3,599.9 2133.4,601.7C2136.6,603.5 2139.7,606.7 2142.9,607.1C2146.9,607.6 2151.0,607.5 2155.0,607.9C2158.6,608.3 2162.1,610.2 2165.7,610.6C2170.2,611.2 2174.7,611.7 2179.2,611.7C2182.8,611.7 2186.4,608.0 2190.0,605.8C2192.7,604.2 2195.3,602.6 2198.0,600.4C2200.3,598.6 2202.5,593.6 2204.8,593.6C2207.0,593.6 2209.3,597.5 2211.5,597.7C2214.3,598.0 2217.2,598.2 2220.0,598.2"/>
</g>
<g fill="none" stroke="#00703C" stroke-width="10" stroke-linejoin="round" stroke-linecap="butt">
<path d="M138.0,796.0C153.5,796.4 168.9,796.8 184.4,796.8C202.5,796.8 220.7,796.8 238.8,796.8C242.4,796.8 246.1,799.0 249.7,799.0C253.3,799.0 256.9,798.6 260.5,798.5C264.1,798.4 267.8,798.1 271.4,798.1C274.4,798.1 277.5,801.7 280.5,804.4C283.5,807.0 286.5,811.2 289.5,815.3C292.5,819.5 295.6,826.1 298.6,829.8C301.6,833.5 304.7,836.7 307.7,838.9C311.9,842.0 316.2,843.4 320.4,846.1C324.6,848.8 328.8,852.1 333.0,855.2C337.9,858.8 342.7,862.9 347.6,866.1C351.2,868.4 354.8,871.1 358.4,872.4C361.4,873.5 364.5,874.8 367.5,874.8C371.7,874.8 376.0,873.1 380.2,871.5C384.4,869.9 388.7,866.0 392.9,863.4C398.9,859.7 405.0,856.1 411.0,852.5C417.0,848.9 423.1,844.7 429.1,841.6C436.1,838.1 443.0,836.2 450.0,832.5C452.4,831.2 454.8,829.2 457.2,828.0C466.3,823.6 475.3,820.9 484.4,818.0C493.5,815.1 502.5,811.8 511.6,810.3C520.7,808.8 529.7,807.2 538.8,807.2C544.8,807.2 550.9,807.2 556.9,807.2C563.0,807.2 569.0,809.9 575.1,811.7C579.3,812.9 583.6,813.7 587.8,816.2C590.2,817.6 592.6,823.2 595.0,826.2C597.1,828.9 599.3,832.8 601.4,833.5C602.9,834.0 604.4,834.4 605.9,834.4C607.7,834.4 609.5,829.7 611.3,828.0C613.4,826.0 615.6,822.9 617.7,822.9C619.8,822.9 621.9,824.7 624.0,825.3C626.4,826.0 628.9,827.1 631.3,827.1C633.7,827.1 636.1,824.8 638.5,822.6C640.9,820.4 643.4,813.1 645.8,810.8C648.8,807.9 651.8,805.8 654.8,804.8C661.5,802.6 668.1,801.5 674.8,800.8C680.8,800.1 686.9,799.8 692.9,799.4C700.2,798.9 707.4,798.5 714.7,798.1"/>
<path d="M749.8,796.0C762.9,796.0 775.9,796.3 789.0,796.8C801.2,797.2 813.4,799.5 825.6,802.2C833.7,804.0 841.9,807.7 850.0,812.0C856.5,815.4 863.1,820.6 869.6,826.6C874.5,831.1 879.4,835.2 884.3,843.8C886.8,848.2 889.2,855.5 891.7,865.8C893.6,873.6 895.4,887.1 897.3,902.5C898.8,914.9 900.3,933.9 901.8,951.4C902.7,961.9 903.6,973.3 904.5,985.0C905.2,993.7 905.8,1001.2 906.5,1012.0C907.4,1027.2 908.4,1052.0 909.3,1070.8C910.4,1092.2 911.4,1108.2 912.5,1132.3C913.3,1151.2 914.2,1180.7 915.0,1200.0C916.7,1238.6 918.3,1270.3 920.0,1298.0C921.7,1325.7 923.3,1348.3 925.0,1370.0C926.5,1390.0 928.1,1410.9 929.6,1425.0C931.1,1438.5 932.5,1450.7 934.0,1458.0C935.3,1464.6 936.7,1473.0 938.0,1473.0C939.3,1473.0 940.7,1465.2 942.0,1458.0C943.2,1451.7 944.3,1438.0 945.5,1425.0C946.8,1410.1 948.2,1389.7 949.5,1370.0C951.0,1347.8 952.5,1321.9 954.0,1298.0C956.1,1265.1 958.1,1233.7 960.2,1200.0C962.2,1166.9 964.3,1137.8 966.3,1097.4C967.9,1064.9 969.6,1005.0 971.2,980.0C972.0,967.7 972.8,959.7 973.6,951.4C975.2,934.4 976.9,917.8 978.5,907.4C980.5,894.5 982.6,885.5 984.6,878.0C987.1,868.9 989.5,860.4 992.0,856.0C995.2,850.2 998.5,845.2 1001.7,843.8C1005.0,842.4 1008.2,841.3 1011.5,841.3C1014.8,841.3 1018.0,843.3 1021.3,845.0C1025.4,847.1 1029.4,852.3 1033.5,856.0C1037.6,859.7 1041.7,865.5 1045.8,867.0C1049.1,868.2 1052.3,869.4 1055.6,869.4C1058.8,869.4 1062.1,868.3 1065.3,867.0C1069.4,865.4 1073.5,858.8 1077.6,853.5C1081.7,848.2 1085.7,839.3 1089.8,834.0C1093.9,828.7 1097.9,823.5 1102.0,820.5C1106.9,816.9 1111.8,813.8 1116.7,812.4C1121.6,811.0 1126.5,809.5 1131.4,809.5C1137.9,809.5 1144.5,811.1 1151.0,812.0C1156.7,812.8 1162.4,814.4 1168.1,814.4C1176.2,814.4 1184.4,811.7 1192.5,810.7C1200.7,809.7 1208.8,808.3 1217.0,808.3C1222.9,808.3 1228.8,808.8 1234.7,809.5C1239.6,810.1 1244.5,813.6 1249.4,818.1C1253.5,821.8 1257.5,833.4 1261.6,841.3C1264.9,847.7 1268.1,856.2 1271.4,860.9C1274.7,865.6 1277.9,867.1 1281.2,871.9C1284.4,876.7 1287.7,885.4 1290.9,892.7C1293.0,897.4 1295.0,906.0 1297.1,907.4C1299.1,908.8 1301.2,909.8 1303.2,909.8C1306.5,909.8 1309.7,903.2 1313.0,898.8C1316.2,894.5 1319.5,887.2 1322.7,882.9C1325.6,879.1 1328.4,874.0 1331.3,873.1C1333.3,872.4 1335.4,871.9 1337.4,871.9C1339.4,871.9 1341.5,877.0 1343.5,882.9C1345.1,887.6 1346.8,901.9 1348.4,914.7C1350.0,927.5 1351.7,946.3 1353.3,963.6C1354.5,976.6 1355.8,992.0 1357.0,1005.0C1358.6,1022.2 1360.3,1038.9 1361.9,1053.4C1363.9,1071.5 1366.0,1085.5 1368.0,1102.3C1369.7,1116.1 1371.3,1135.5 1373.0,1145.0C1374.3,1152.6 1375.7,1162.5 1377.0,1162.5C1378.2,1162.5 1379.3,1154.7 1380.5,1145.0C1381.2,1138.9 1382.0,1114.2 1382.7,1102.3C1383.9,1082.8 1385.1,1069.4 1386.3,1053.4C1387.5,1037.0 1388.8,1022.0 1390.0,1005.0C1391.2,988.0 1392.5,968.4 1393.7,951.4C1394.9,934.4 1396.2,912.4 1397.4,902.5C1399.0,889.7 1400.6,880.4 1402.2,875.6C1404.3,869.4 1406.3,864.2 1408.4,863.3C1410.0,862.6 1411.6,862.1 1413.2,862.1C1416.5,862.1 1419.7,868.8 1423.0,871.9C1426.7,875.4 1430.3,881.7 1434.0,881.7C1436.9,881.7 1439.7,879.2 1442.6,878.0C1445.5,876.8 1448.3,874.3 1451.2,874.3C1454.0,874.3 1456.9,880.4 1459.7,885.3C1462.6,890.2 1465.4,898.4 1468.3,907.4C1470.7,915.1 1473.2,925.2 1475.6,936.7C1477.6,946.3 1479.7,958.3 1481.7,971.0C1483.3,981.2 1485.0,993.3 1486.6,1005.0C1489.9,1028.4 1493.1,1042.4 1496.4,1077.8C1498.3,1098.0 1500.1,1141.9 1502.0,1175.7C1503.5,1202.9 1505.0,1235.9 1506.5,1260.0C1508.2,1286.8 1509.8,1310.6 1511.5,1330.0C1513.2,1349.4 1514.8,1359.7 1516.5,1380.0C1517.5,1392.2 1518.5,1409.7 1519.5,1425.0C1520.7,1442.9 1521.8,1461.8 1523.0,1480.0C1524.5,1503.5 1526.0,1527.4 1527.5,1550.0C1529.2,1575.6 1530.9,1601.1 1532.6,1624.6C1533.8,1641.7 1535.1,1664.6 1536.3,1673.5C1537.5,1682.4 1538.8,1689.7 1540.0,1692.0C1541.5,1694.8 1542.9,1697.0 1544.4,1697.0C1545.8,1697.0 1547.1,1694.3 1548.5,1692.0C1550.0,1689.5 1551.5,1684.7 1553.0,1680.0C1554.3,1675.8 1555.7,1672.3 1557.0,1665.0C1558.3,1657.7 1559.7,1649.5 1561.0,1624.6C1561.5,1615.3 1562.0,1575.9 1562.5,1550.0C1562.9,1527.6 1563.4,1496.7 1563.8,1480.0C1565.0,1433.7 1566.2,1423.2 1567.4,1380.0C1567.8,1366.8 1568.1,1346.1 1568.5,1330.0C1569.3,1293.4 1570.2,1251.5 1571.0,1224.6C1572.6,1171.9 1574.3,1138.2 1575.9,1102.3C1577.1,1075.2 1578.4,1045.0 1579.6,1028.9C1580.6,1016.2 1581.5,1008.8 1582.5,1000.0C1583.5,990.9 1584.5,981.2 1585.5,975.0C1586.5,968.8 1587.5,962.5 1588.5,960.0C1589.8,956.8 1591.0,953.8 1592.3,953.8C1593.7,953.8 1595.1,958.5 1596.5,962.0C1598.2,966.2 1599.9,972.0 1601.6,980.0C1602.8,985.8 1604.1,999.6 1605.3,1005.0C1607.3,1013.9 1609.4,1016.9 1611.4,1024.0C1613.8,1032.5 1616.3,1048.3 1618.7,1053.4C1620.3,1056.8 1622.0,1060.7 1623.6,1060.7C1625.6,1060.7 1627.7,1055.8 1629.7,1050.9C1631.7,1046.0 1633.8,1030.4 1635.8,1021.6C1637.4,1014.5 1639.1,1005.5 1640.7,1002.0C1641.9,999.4 1643.2,996.5 1644.4,996.5C1646.4,996.5 1648.5,1001.6 1650.5,1006.9C1652.5,1012.2 1654.6,1030.3 1656.6,1041.2C1658.7,1052.3 1660.7,1068.5 1662.8,1073.0C1664.8,1077.4 1666.9,1081.5 1668.9,1081.5C1670.9,1081.5 1673.0,1078.0 1675.0,1076.6C1677.4,1075.0 1679.9,1072.5 1682.3,1072.5C1684.3,1072.5 1686.4,1074.9 1688.4,1077.8C1690.5,1080.7 1692.5,1091.6 1694.6,1102.3C1696.3,1111.1 1698.0,1125.3 1699.7,1140.0C1701.2,1153.3 1702.8,1172.6 1704.3,1187.9C1705.7,1201.8 1707.1,1214.3 1708.5,1228.0C1710.7,1249.1 1712.8,1273.0 1715.0,1293.0C1718.5,1325.7 1722.1,1350.7 1725.6,1383.0C1727.9,1404.0 1730.2,1427.0 1732.5,1450.4C1733.5,1460.6 1734.5,1472.6 1735.5,1482.0C1737.0,1496.2 1738.5,1506.3 1740.0,1520.0C1742.0,1538.2 1744.0,1559.7 1746.0,1580.0C1747.7,1597.6 1749.5,1616.1 1751.2,1633.8C1752.7,1649.4 1754.3,1672.4 1755.8,1680.0C1757.5,1688.6 1759.3,1694.2 1761.0,1697.0C1762.6,1699.5 1764.1,1702.0 1765.7,1702.0C1767.1,1702.0 1768.6,1699.8 1770.0,1697.0C1771.1,1694.8 1772.3,1689.4 1773.4,1680.0C1774.2,1673.6 1774.9,1649.9 1775.7,1633.8C1776.6,1614.2 1777.6,1594.8 1778.5,1572.0C1779.5,1547.6 1780.5,1513.3 1781.5,1490.0C1782.8,1459.0 1784.2,1436.8 1785.5,1410.0C1786.8,1383.2 1788.2,1350.7 1789.5,1329.2C1790.8,1307.7 1792.2,1293.3 1793.5,1275.4C1794.8,1257.5 1796.2,1240.7 1797.5,1221.5C1798.7,1204.7 1799.8,1189.1 1801.0,1167.7C1802.0,1149.3 1803.0,1115.7 1804.0,1100.0C1805.2,1080.6 1806.5,1066.7 1807.7,1056.0C1809.5,1040.3 1811.3,1026.5 1813.1,1020.0C1815.8,1010.4 1818.4,1008.1 1821.1,1001.1C1823.8,994.0 1826.5,987.2 1829.2,976.9C1831.5,968.3 1833.7,954.1 1836.0,941.9C1838.2,929.9 1840.5,915.8 1842.7,904.2C1844.9,892.6 1847.2,875.6 1849.4,871.9C1851.6,868.2 1853.9,865.2 1856.1,865.2C1859.7,865.2 1863.3,868.7 1866.9,868.7C1870.0,868.7 1873.2,861.6 1876.3,859.8C1879.0,858.2 1881.7,856.3 1884.4,856.3C1887.5,856.3 1890.7,860.9 1893.8,865.2C1897.4,870.1 1901.0,883.8 1904.6,893.4C1908.2,903.0 1911.8,910.6 1915.4,923.0C1917.6,930.7 1919.9,946.1 1922.1,952.7C1923.9,958.0 1925.7,964.8 1927.5,964.8C1929.3,964.8 1931.1,959.2 1932.9,952.7C1934.7,946.2 1936.5,915.9 1938.3,904.2C1940.1,892.8 1941.8,881.2 1943.6,877.3C1945.9,872.3 1948.1,870.0 1950.4,867.9C1953.1,865.5 1955.7,865.6 1958.4,862.5C1960.7,859.9 1962.9,847.0 1965.2,839.6C1967.4,832.3 1969.7,822.0 1971.9,818.1C1974.6,813.4 1977.3,809.2 1980.0,808.6C1982.2,808.1 1984.5,807.8 1986.7,807.8C1989.4,807.8 1992.1,811.5 1994.8,812.7C1997.5,813.9 2000.2,815.4 2002.9,815.4C2005.1,815.4 2007.4,813.1 2009.6,811.3C2012.3,809.2 2015.0,803.7 2017.7,801.9C2021.3,799.5 2024.8,797.5 2028.4,797.1C2035.6,796.4 2042.8,796.0 2050.0,796.0C2074.2,796.0 2098.5,796.0 2122.7,796.0C2126.3,796.0 2129.8,798.7 2133.4,800.6C2136.6,802.2 2139.7,806.8 2142.9,806.8C2146.0,806.8 2149.2,806.0 2152.3,806.0C2156.8,806.0 2161.2,808.7 2165.7,809.5C2170.2,810.3 2174.7,811.3 2179.2,811.3C2182.8,811.3 2186.4,808.1 2190.0,806.0C2192.7,804.5 2195.3,802.8 2198.0,800.6C2200.3,798.7 2202.5,793.3 2204.8,793.3C2207.0,793.3 2209.3,795.4 2211.5,796.0C2214.3,796.8 2217.2,797.6 2220.0,797.9"/>
</g>
<g fill="none" stroke="#E60A00" stroke-width="10" stroke-linejoin="round" stroke-linecap="butt">
<path d="M138.0,996.6C171.6,996.6 205.2,996.6 238.8,996.6C249.7,996.6 260.5,996.7 271.4,997.0C274.4,997.1 277.5,998.2 280.5,999.3C283.5,1000.4 286.5,1003.5 289.5,1005.7C292.5,1008.0 295.6,1011.2 298.6,1012.9C302.8,1015.3 307.1,1016.7 311.3,1018.4C316.1,1020.3 321.0,1021.6 325.8,1023.8C330.0,1025.7 334.3,1028.7 338.5,1031.0C342.7,1033.3 347.0,1035.8 351.2,1037.4C356.0,1039.3 360.9,1041.9 365.7,1041.9C370.5,1041.9 375.4,1039.8 380.2,1038.3C384.4,1037.0 388.7,1034.5 392.9,1032.9C398.9,1030.6 405.0,1028.5 411.0,1026.5C417.0,1024.5 423.1,1022.8 429.1,1021.1C436.1,1019.2 443.0,1017.5 450.0,1015.7C452.4,1015.1 454.8,1014.5 457.2,1013.9C466.3,1011.7 475.3,1009.5 484.4,1007.9C493.5,1006.3 502.5,1004.4 511.6,1003.9C520.7,1003.4 529.7,1003.0 538.8,1003.0C544.8,1003.0 550.9,1003.2 556.9,1003.5C563.0,1003.8 569.0,1005.3 575.1,1006.6C579.3,1007.5 583.6,1008.2 587.8,1010.3C590.2,1011.5 592.6,1016.6 595.0,1019.3C597.1,1021.7 599.3,1024.7 601.4,1025.7C602.9,1026.4 604.4,1027.1 605.9,1027.1C607.7,1027.1 609.5,1025.0 611.3,1023.9C613.4,1022.7 615.6,1020.2 617.7,1020.2C620.4,1020.2 623.1,1020.2 625.8,1020.2C628.2,1020.2 630.7,1020.1 633.1,1019.9C635.5,1019.7 637.9,1016.9 640.3,1014.8C642.7,1012.7 645.2,1008.3 647.6,1006.6C650.6,1004.5 653.7,1002.8 656.7,1002.1C662.7,1000.6 668.8,999.9 674.8,999.4C680.8,998.9 686.9,998.7 692.9,998.5C700.2,998.3 707.4,998.1 714.7,998.1"/>
<path d="M749.8,996.6C762.9,996.6 775.9,997.1 789.0,997.6C801.2,998.1 813.4,999.6 825.6,1001.5C833.7,1002.8 841.9,1005.0 850.0,1008.0C856.5,1010.4 863.1,1014.2 869.6,1019.0C874.5,1022.6 879.4,1026.7 884.3,1033.8C887.2,1037.9 890.0,1044.1 892.9,1053.4C894.5,1058.7 896.2,1067.7 897.8,1077.8C899.0,1085.4 900.3,1095.3 901.5,1107.2C902.7,1118.8 903.9,1136.0 905.1,1151.2C906.3,1166.8 907.6,1183.7 908.8,1200.0C910.0,1216.3 911.3,1232.4 912.5,1249.0C913.7,1265.1 914.9,1281.9 916.1,1298.0C917.3,1314.6 918.6,1330.7 919.8,1347.0C921.0,1363.3 922.3,1378.3 923.5,1395.9C924.1,1405.0 924.8,1416.1 925.4,1425.0C926.1,1435.3 926.9,1447.4 927.6,1453.4C929.1,1465.3 930.5,1470.1 932.0,1477.8C933.0,1483.1 934.0,1489.6 935.0,1493.0C935.9,1496.1 936.8,1500.0 937.7,1500.0C938.6,1500.0 939.6,1495.8 940.5,1493.0C941.8,1489.1 943.0,1484.2 944.3,1477.8C945.5,1471.7 946.7,1463.7 947.9,1453.4C948.7,1446.2 949.6,1435.7 950.4,1425.0C951.6,1409.7 952.8,1388.2 954.0,1371.4C955.2,1354.1 956.5,1340.6 957.7,1322.5C958.9,1304.4 960.2,1282.0 961.4,1261.3C962.6,1241.2 963.8,1217.8 965.0,1200.0C966.2,1181.7 967.5,1166.6 968.7,1151.2C969.9,1135.8 971.2,1116.9 972.4,1107.2C974.4,1091.2 976.5,1081.6 978.5,1073.0C980.9,1062.7 983.4,1054.1 985.8,1048.5C988.7,1041.9 991.5,1036.8 994.4,1033.8C997.7,1030.4 1000.9,1027.4 1004.2,1026.5C1006.6,1025.9 1009.1,1025.3 1011.5,1025.3C1015.6,1025.3 1019.7,1027.4 1023.8,1028.9C1028.7,1030.7 1033.5,1034.6 1038.4,1036.8C1042.5,1038.7 1046.6,1041.6 1050.7,1041.6C1054.0,1041.6 1057.2,1041.4 1060.5,1041.2C1064.6,1040.9 1068.6,1038.5 1072.7,1036.3C1076.8,1034.1 1080.8,1029.9 1084.9,1026.5C1089.0,1023.0 1093.1,1018.2 1097.2,1015.5C1102.1,1012.3 1106.9,1009.3 1111.8,1008.1C1116.7,1006.9 1121.6,1005.7 1126.5,1005.7C1132.2,1005.7 1137.9,1006.0 1143.6,1006.4C1149.3,1006.8 1155.1,1009.8 1160.8,1009.8C1165.7,1009.8 1170.5,1009.3 1175.4,1008.9C1181.9,1008.4 1188.5,1006.8 1195.0,1006.4C1202.3,1005.9 1209.7,1005.5 1217.0,1005.5C1222.9,1005.5 1228.8,1005.8 1234.7,1006.4C1239.2,1006.8 1243.6,1009.8 1248.1,1013.0C1252.2,1015.9 1256.3,1023.5 1260.4,1028.9C1264.1,1033.7 1267.7,1039.7 1271.4,1043.6C1274.7,1047.0 1277.9,1048.4 1281.2,1052.2C1284.4,1056.0 1287.7,1063.7 1290.9,1069.3C1293.0,1072.9 1295.0,1078.8 1297.1,1079.8C1299.1,1080.8 1301.2,1081.5 1303.2,1081.5C1306.0,1081.5 1308.9,1077.2 1311.7,1074.2C1315.0,1070.8 1318.2,1064.1 1321.5,1060.7C1324.4,1057.7 1327.2,1053.8 1330.1,1053.4C1332.5,1053.1 1335.0,1052.9 1337.4,1052.9C1339.4,1052.9 1341.5,1057.3 1343.5,1062.0C1345.1,1065.8 1346.8,1076.0 1348.4,1085.2C1350.0,1094.4 1351.7,1106.6 1353.3,1119.4C1354.9,1132.2 1356.6,1149.2 1358.2,1163.5C1359.8,1177.8 1361.5,1193.0 1363.1,1205.0C1364.7,1217.0 1366.4,1228.2 1368.0,1236.9C1369.6,1245.6 1371.3,1254.1 1372.9,1258.9C1374.3,1262.9 1375.6,1268.0 1377.0,1268.0C1378.5,1268.0 1379.9,1262.4 1381.4,1256.4C1382.6,1251.3 1383.9,1237.4 1385.1,1224.6C1386.3,1211.8 1387.6,1192.0 1388.8,1175.7C1390.0,1159.4 1391.3,1141.0 1392.5,1126.8C1393.7,1113.0 1394.9,1099.3 1396.1,1090.1C1397.6,1078.8 1399.0,1068.5 1400.5,1063.2C1402.3,1056.7 1404.1,1051.5 1405.9,1049.7C1407.9,1047.7 1410.0,1046.0 1412.0,1046.0C1415.3,1046.0 1418.5,1051.2 1421.8,1053.4C1425.9,1056.1 1429.9,1060.7 1434.0,1060.7C1436.9,1060.7 1439.7,1058.8 1442.6,1057.8C1445.5,1056.8 1448.3,1054.6 1451.2,1054.6C1454.0,1054.6 1456.9,1059.4 1459.7,1063.2C1462.6,1067.0 1465.4,1073.4 1468.3,1080.3C1470.7,1086.2 1473.2,1093.2 1475.6,1102.3C1477.6,1109.9 1479.7,1120.6 1481.7,1131.7C1483.8,1143.0 1485.8,1157.3 1487.9,1170.8C1489.9,1184.1 1492.0,1197.9 1494.0,1212.4C1495.6,1224.1 1497.3,1235.1 1498.9,1249.1C1500.5,1263.1 1502.2,1281.5 1503.8,1298.0C1505.4,1314.1 1507.0,1330.8 1508.6,1346.9C1510.2,1363.4 1511.9,1379.8 1513.5,1395.9C1514.5,1405.7 1515.5,1415.4 1516.5,1425.0C1518.4,1442.9 1520.2,1458.7 1522.1,1477.8C1525.0,1507.2 1527.8,1549.0 1530.7,1575.7C1532.7,1594.6 1534.8,1609.3 1536.8,1624.6C1538.4,1636.4 1539.9,1651.2 1541.5,1658.0C1542.8,1663.5 1544.0,1670.0 1545.3,1670.0C1546.7,1670.0 1548.1,1662.9 1549.5,1658.0C1551.8,1649.9 1554.1,1640.0 1556.4,1624.6C1558.0,1613.9 1559.6,1597.3 1561.2,1575.7C1562.8,1553.7 1564.5,1511.4 1566.1,1477.8C1566.9,1460.6 1567.8,1448.3 1568.6,1425.0C1569.0,1413.8 1569.4,1392.7 1569.8,1380.0C1570.2,1367.3 1570.6,1357.1 1571.0,1346.9C1572.1,1319.8 1573.1,1294.2 1574.2,1273.5C1575.2,1254.8 1576.1,1239.0 1577.1,1224.6C1578.3,1206.2 1579.6,1189.1 1580.8,1175.7C1582.0,1162.3 1583.3,1149.1 1584.5,1141.4C1585.7,1133.9 1586.9,1127.2 1588.1,1124.3C1589.5,1120.9 1590.9,1117.5 1592.3,1117.5C1594.2,1117.5 1596.0,1122.6 1597.9,1126.8C1600.4,1132.3 1602.8,1145.1 1605.3,1153.7C1607.7,1162.2 1610.2,1171.7 1612.6,1178.1C1614.6,1183.5 1616.7,1189.4 1618.7,1191.6C1620.3,1193.4 1622.0,1195.3 1623.6,1195.3C1625.6,1195.3 1627.7,1190.0 1629.7,1185.5C1631.7,1181.0 1633.8,1169.5 1635.8,1163.5C1637.4,1158.7 1639.1,1153.1 1640.7,1151.2C1641.9,1149.8 1643.2,1148.3 1644.4,1148.3C1646.4,1148.3 1648.5,1153.6 1650.5,1158.6C1652.5,1163.6 1654.6,1177.5 1656.6,1185.5C1658.7,1193.6 1660.7,1205.0 1662.8,1207.5C1664.8,1209.9 1666.9,1211.9 1668.9,1211.9C1671.3,1211.9 1673.8,1209.4 1676.2,1208.7C1678.2,1208.2 1680.3,1207.5 1682.3,1207.5C1684.3,1207.5 1686.4,1209.8 1688.4,1212.4C1690.5,1215.0 1692.5,1223.0 1694.6,1232.0C1696.3,1239.4 1698.0,1254.1 1699.7,1266.0C1701.2,1276.8 1702.8,1287.2 1704.3,1300.0C1705.7,1311.7 1707.1,1327.4 1708.5,1340.0C1711.1,1363.1 1713.6,1386.1 1716.2,1405.0C1720.0,1432.8 1723.7,1455.5 1727.5,1478.0C1730.0,1492.9 1732.5,1506.1 1735.0,1520.0C1736.8,1530.0 1738.6,1539.1 1740.4,1550.0C1741.5,1556.9 1742.7,1564.8 1743.8,1572.3C1746.9,1592.7 1750.0,1616.6 1753.1,1633.8C1755.2,1645.7 1757.4,1657.5 1759.5,1665.0C1760.7,1669.1 1761.8,1673.2 1763.0,1675.0C1764.1,1676.7 1765.1,1678.5 1766.2,1678.5C1767.3,1678.5 1768.4,1676.9 1769.5,1675.0C1770.5,1673.3 1771.5,1668.0 1772.5,1662.0C1773.5,1656.2 1774.4,1643.9 1775.4,1633.8C1777.2,1615.1 1779.0,1599.0 1780.8,1572.3C1781.5,1561.4 1782.3,1543.1 1783.0,1530.0C1784.0,1512.1 1785.0,1493.6 1786.0,1480.0C1787.2,1464.1 1788.3,1454.1 1789.5,1440.0C1790.6,1426.3 1791.8,1412.9 1792.9,1396.5C1794.2,1377.2 1795.6,1348.9 1796.9,1329.2C1798.3,1309.0 1799.6,1293.6 1801.0,1275.4C1802.3,1257.7 1803.7,1234.5 1805.0,1221.5C1806.8,1203.9 1808.6,1189.3 1810.4,1181.1C1812.6,1170.9 1814.9,1164.7 1817.1,1159.6C1820.2,1152.5 1823.4,1149.7 1826.5,1143.5C1829.2,1138.1 1831.9,1133.7 1834.6,1124.6C1836.6,1118.0 1838.5,1101.1 1840.5,1092.0C1843.3,1078.9 1846.2,1065.9 1849.0,1059.0C1850.9,1054.3 1852.9,1048.3 1854.8,1048.3C1858.4,1048.3 1862.0,1052.3 1865.6,1052.3C1869.2,1052.3 1872.7,1045.5 1876.3,1044.2C1879.0,1043.2 1881.7,1042.1 1884.4,1042.1C1887.1,1042.1 1889.8,1044.5 1892.5,1046.9C1895.6,1049.6 1898.8,1056.8 1901.9,1063.1C1905.5,1070.4 1909.1,1080.4 1912.7,1089.6C1915.4,1096.5 1918.1,1104.7 1920.8,1111.1C1923.3,1117.0 1925.8,1127.3 1928.3,1127.3C1930.3,1127.3 1932.2,1120.4 1934.2,1113.8C1936.0,1107.8 1937.8,1093.1 1939.6,1081.5C1940.5,1075.7 1941.4,1065.7 1942.3,1063.1C1944.5,1056.7 1946.8,1054.2 1949.0,1052.3C1952.1,1049.6 1955.3,1049.9 1958.4,1046.9C1960.7,1044.7 1962.9,1036.1 1965.2,1030.7C1967.4,1025.4 1969.7,1018.1 1971.9,1014.6C1974.6,1010.3 1977.3,1005.7 1980.0,1005.2C1982.7,1004.7 1985.4,1004.4 1988.1,1004.4C1990.8,1004.4 1993.4,1009.2 1996.1,1010.6C1998.4,1011.8 2000.6,1013.2 2002.9,1013.2C2005.1,1013.2 2007.4,1010.8 2009.6,1009.2C2012.7,1006.9 2015.9,1001.5 2019.0,999.8C2022.1,998.1 2025.3,996.4 2028.4,996.3C2044.6,995.8 2060.7,995.9 2076.9,995.7C2092.2,995.5 2107.4,995.2 2122.7,995.2C2126.3,995.2 2129.8,997.0 2133.4,998.4C2136.6,999.6 2139.7,1003.1 2142.9,1003.3C2147.8,1003.6 2152.8,1003.5 2157.7,1003.8C2161.3,1004.0 2164.8,1005.8 2168.4,1006.0C2172.9,1006.3 2177.4,1006.5 2181.9,1006.5C2185.0,1006.5 2188.2,1004.1 2191.3,1002.5C2193.5,1001.4 2195.8,999.9 2198.0,998.4C2200.3,996.8 2202.5,993.0 2204.8,993.0C2207.0,993.0 2209.3,995.2 2211.5,995.7C2214.3,996.4 2217.2,997.0 2220.0,997.1"/>
</g>
<line x1="416.0" y1="278.3" x2="392.5" y2="255.5" stroke="#000" stroke-width="9" stroke-linecap="round"/><polygon points="364.6,228.6 404.5,251.0 388.3,267.7" fill="#000" stroke="#000" stroke-width="5" stroke-linejoin="round"/>
<line x1="619.0" y1="332.5" x2="606.9" y2="243.2" stroke="#000" stroke-width="9" stroke-linecap="round"/><polygon points="601.7,204.8 619.2,247.1 596.1,250.2" fill="#000" stroke="#000" stroke-width="5" stroke-linejoin="round"/>
<line x1="698.9" y1="244.3" x2="671.5" y2="224.2" stroke="#000" stroke-width="9" stroke-linecap="round"/><polygon points="640.3,201.2 682.8,218.1 669.1,236.8" fill="#000" stroke="#000" stroke-width="5" stroke-linejoin="round"/>
<line x1="1247.0" y1="280.1" x2="1265.6" y2="268.8" stroke="#000" stroke-width="9" stroke-linecap="round"/><polygon points="1298.8,248.8 1266.9,281.6 1254.9,261.7" fill="#000" stroke="#000" stroke-width="5" stroke-linejoin="round"/>
<line x1="1295.3" y1="397.1" x2="1338.5" y2="403.9" stroke="#000" stroke-width="9" stroke-linecap="round"/><polygon points="1376.8,409.9 1331.3,414.5 1334.9,391.6" fill="#000" stroke="#000" stroke-width="5" stroke-linejoin="round"/>
<line x1="1177.4" y1="701.0" x2="1174.7" y2="674.2" stroke="#000" stroke-width="9" stroke-linecap="round"/><polygon points="1170.7,635.6 1186.8,678.5 1163.7,680.8" fill="#000" stroke="#000" stroke-width="5" stroke-linejoin="round"/>
<line x1="1099.9" y1="1131.3" x2="1070.1" y2="1076.1" stroke="#000" stroke-width="9" stroke-linecap="round"/><polygon points="1051.8,1042.0 1083.0,1075.4 1062.5,1086.5" fill="#000" stroke="#000" stroke-width="5" stroke-linejoin="round"/>
<line x1="998.3" y1="1592.6" x2="965.6" y2="1534.3" stroke="#000" stroke-width="9" stroke-linecap="round"/><polygon points="946.6,1500.6 978.4,1533.4 958.1,1544.8" fill="#000" stroke="#000" stroke-width="5" stroke-linejoin="round"/>
<line x1="1454.4" y1="1673.0" x2="1500.0" y2="1680.4" stroke="#000" stroke-width="9" stroke-linecap="round"/><polygon points="1538.3,1686.6 1492.7,1691.0 1496.5,1668.1" fill="#000" stroke="#000" stroke-width="5" stroke-linejoin="round"/>
<line x1="1867.0" y1="1469.8" x2="1802.1" y2="1434.8" stroke="#000" stroke-width="9" stroke-linecap="round"/><polygon points="1768.0,1416.5 1812.5,1427.2 1801.4,1447.7" fill="#000" stroke="#000" stroke-width="5" stroke-linejoin="round"/>
<text transform="translate(412.44,329.90) scale(1,1.04)" font-size="59.2">3484</text>
<text transform="translate(570.25,390.80) scale(1,1.04)" font-size="59.2">2954</text>
<text transform="translate(704.45,285.10) scale(1,1.04)" font-size="59.2">2884</text>
<text transform="translate(1108.97,317.90) scale(1,1.04)" font-size="59.2">1431</text>
<text transform="translate(1147.27,414.00) scale(1,1.04)" font-size="59.2">1370</text>
<text transform="translate(1097.07,767.90) scale(1,1.04)" font-size="59.2">1542</text>
<text transform="translate(1045.67,1194.80) scale(1,1.04)" font-size="59.2">1640</text>
<text transform="translate(959.17,1647.90) scale(1,1.04)" font-size="59.2">1740</text>
<text transform="translate(1317.77,1697.50) scale(1,1.04)" font-size="59.2">1227</text>
<text transform="translate(1882.07,1502.90) scale(1,1.04)" font-size="59.2">1039</text>
<text transform="translate(151.11,160.70) scale(1,1.04)" font-size="87.6">CA</text>
<text transform="translate(152.42,385.90) scale(1,1.04)" font-size="87.2" fill="#7800AA">TFC</text>
<text transform="translate(322.4,415.30) scale(1,0.975)" font-size="52.5" fill="#7800AA">tetralin</text>
<text transform="translate(152.42,563.90) scale(1,1.04)" font-size="87.2" fill="#0052B2">TFC</text>
<text transform="translate(322.4,593.30) scale(1,0.975)" font-size="52.5" fill="#0052B2">toluene</text>
<text transform="translate(152.42,752.50) scale(1,1.04)" font-size="87.2" fill="#00703C">TFC</text>
<text transform="translate(322.4,781.90) scale(1,0.975)" font-size="52.5" fill="#00703C">hexane</text>
<text transform="translate(152.42,950.90) scale(1,1.04)" font-size="87.2" fill="#E60A00">TFC</text>
<text transform="translate(322.4,980.30) scale(1,0.975)" font-size="52.5" fill="#E60A00">isopentane</text>
<text transform="translate(42.30,1848.70) scale(1,1.04)" font-size="86.5">4000</text>
<text transform="translate(263.97,1848.70) scale(1,1.04)" font-size="86.5">3500</text>
<text transform="translate(486.07,1848.70) scale(1,1.04)" font-size="86.5">3000</text>
<text transform="translate(830.34,1848.70) scale(1,1.04)" font-size="86.5">1750</text>
<text transform="translate(1125.34,1848.70) scale(1,1.04)" font-size="86.5">1500</text>
<text transform="translate(1420.34,1848.70) scale(1,1.04)" font-size="86.5">1250</text>
<text transform="translate(1715.84,1848.70) scale(1,1.04)" font-size="86.5">1000</text>
<text transform="translate(2154.63,1848.70) scale(1,1.04)" font-size="86.5">650</text>
<text transform="translate(615.98,2044.70) scale(1,1.03)" font-size="123.3">Wavenumber (cm</text>
<text transform="translate(1644.42,1985.10) scale(1,1.04)" font-size="73.8">-1</text>
<text transform="translate(1712.58,2044.70) scale(1,1.03)" font-size="123.3">)</text>
</svg></body></html>
